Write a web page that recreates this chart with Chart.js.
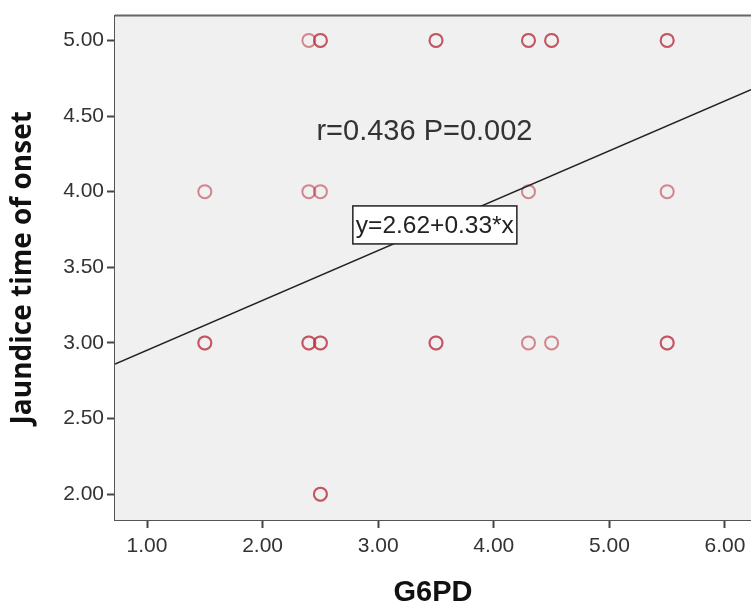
<!DOCTYPE html>
<html>
<head>
<meta charset="utf-8">
<script src="https://cdn.jsdelivr.net/npm/chart.js@4/dist/chart.umd.min.js"></script>
<style>
	body { margin: 0; background: #fff; }
	#wrap { width: 751px; height: 610px; }
</style>
</head>
<body>
<div id="wrap"><canvas id="plot" width="751" height="610"></canvas></div>
<script>
// G6PD vs jaundice onset (doubles = darker rings)
const g6pd = [
	2.4, 2.5, 2.5, 3.5, 3.5, 4.3, 4.3, 4.5, 4.5, 5.5, 5.5,
	1.5, 2.4, 2.5, 4.3, 5.5,
	1.5, 1.5, 2.4, 2.4, 2.5, 2.5, 3.5, 3.5, 4.3, 4.5, 5.5, 5.5,
	2.5, 2.5,
];
const onset = [
	5, 5, 5, 5, 5, 5, 5, 5, 5, 5, 5,
	4, 4, 4, 4, 4,
	3, 3, 3, 3, 3, 3, 3, 3, 3, 3, 3, 3,
	2, 2,
];
// fitted line at the plot edges
const fitX = [0.723, 6.225];
const fitY = [2.86, 4.674];
const xTicks = [1, 2, 3, 4, 5, 6];
const yTicks = [2, 2.5, 3, 3.5, 4, 4.5, 5];

const statText = "r=0.436 P=0.002";
const fitText = "y=2.62+0.33*x";

const ctx = document.getElementById("plot").getContext("2d");

const frame = {
	id: "frame",
	beforeDatasetsDraw(chart) {
		const a = chart.chartArea;
		const c = chart.ctx;
		c.save();
		c.fillStyle = "#f0f0f0";
		c.fillRect(a.left, a.top, a.right - a.left, a.bottom - a.top);
		c.strokeStyle = "#666";
		c.lineWidth = 2;
		c.beginPath();
		c.moveTo(a.left, a.top);
		c.lineTo(a.right + 5, a.top);
		c.stroke();
		c.restore();
	},
	afterDatasetsDraw(chart) {
		const c = chart.ctx;
		const xs = chart.scales.x;
		const ys = chart.scales.y;
		c.save();
		c.fillStyle = "#333";
		c.font = "29px Arial, 'Liberation Sans'";
		c.textAlign = "center";
		c.textBaseline = "middle";
		c.fillText(statText, xs.getPixelForValue(3.4), ys.getPixelForValue(4.395));

		const bx = xs.getPixelForValue(3.49);
		const by = ys.getPixelForValue(3.78);
		c.font = "24.5px Arial, 'Liberation Sans'";
		const w = c.measureText(fitText).width + 6;
		const h = 38;
		c.fillStyle = "#fff";
		c.fillRect(bx - w / 2, by - h / 2, w, h);
		c.strokeStyle = "#222";
		c.lineWidth = 1.5;
		c.strokeRect(bx - w / 2, by - h / 2, w, h);
		c.fillStyle = "#222";
		c.fillText(fitText, bx, by + 1);
		c.restore();
	},
};

new Chart(ctx, {
	type: "scatter",
	data: {
		datasets: [
			{
				type: "line",
				data: fitX.map((x, i) => ({ x, y: fitY[i] })),
				borderColor: "#222",
				borderWidth: 1.5,
				pointRadius: 0,
				fill: false,
			},
			{
				data: g6pd.map((x, i) => ({ x, y: onset[i] })),
				pointStyle: "circle",
				pointRadius: 6.5,
				borderWidth: 2,
				borderColor: "rgba(185, 45, 60, 0.55)",
				backgroundColor: "rgba(0,0,0,0)",
			},
		],
	},
	options: {
		responsive: false,
		animation: false,
		layout: { autoPadding: false, padding: { top: 13, right: 0, left: 0, bottom: 0 } },
		plugins: { legend: { display: false }, tooltip: { enabled: false } },
		scales: {
			x: {
				type: "linear",
				min: 0.723,
				max: 6.225,
				afterBuildTicks: (s) => { s.ticks = xTicks.map((v) => ({ value: v })); },
				afterFit: (s) => { s.height = 90; s.paddingLeft = 0; s.paddingRight = 0; },
				ticks: {
					callback: (v) => v.toFixed(2),
					font: { family: "Arial, 'Liberation Sans'", size: 21 },
					color: "#333",
					padding: 6,
					maxRotation: 0,
				},
				grid: { drawOnChartArea: false, tickLength: 8, tickWidth: 2, tickColor: "#444" },
				border: { color: "#555", width: 2 },
				title: {
					display: true,
					text: "G6PD",
					font: { family: "Arial, 'Liberation Sans'", size: 29, weight: "bold" },
					color: "#111",
					padding: { top: -2, bottom: 0 },
				},
			},
			y: {
				type: "linear",
				min: 1.829,
				max: 5.164,
				afterBuildTicks: (s) => { s.ticks = yTicks.map((v) => ({ value: v })); },
				afterFit: (s) => { s.width = 115; },
				ticks: {
					callback: (v) => v.toFixed(2),
					font: { family: "Arial, 'Liberation Sans'", size: 21 },
					color: "#333",
					padding: 3,
				},
				grid: { drawOnChartArea: false, tickLength: 8, tickWidth: 2, tickColor: "#444" },
				border: { color: "#555", width: 2 },
				title: {
					display: true,
					text: "Jaundice time of onset",
					font: { family: "'Open Sans'", size: 28, weight: "bold" },
					color: "#111",
					padding: { top: 6, bottom: 0 },
				},
			},
		},
	},
	plugins: [frame],
});
</script>
</body>
</html>
